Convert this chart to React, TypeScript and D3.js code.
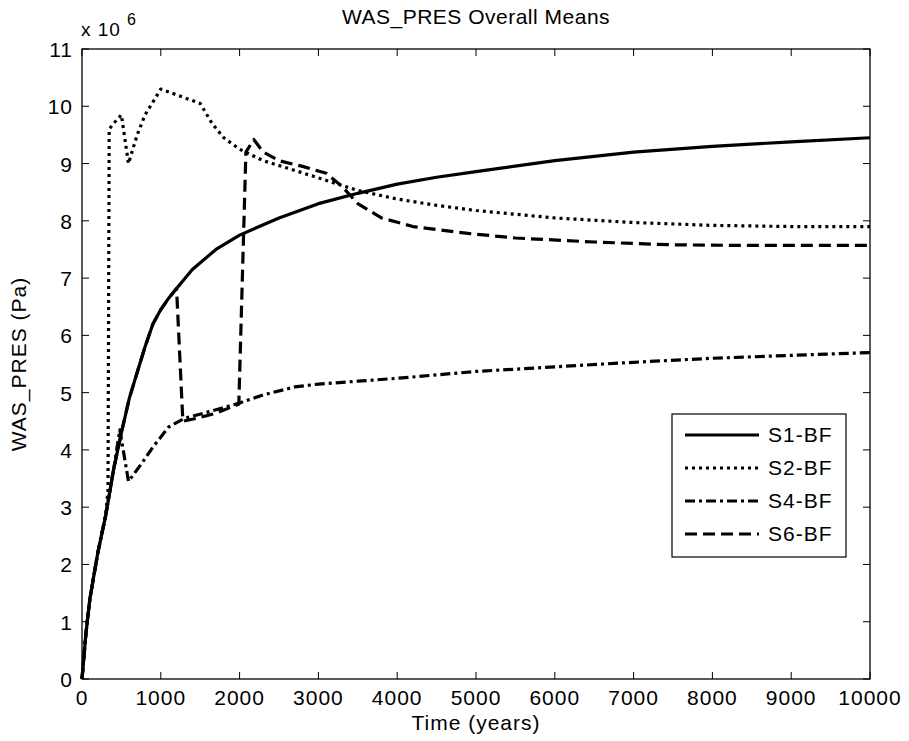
import React from 'react';
import * as d3 from 'd3';

// values in units of 1e6 Pa
const s1Time = [0, 50, 100, 200, 300, 400, 500, 600, 700, 800, 900, 1000, 1100, 1200, 1400, 1700, 2000, 2500, 3000, 3500, 4000, 4500, 5000, 6000, 7000, 8000, 9000, 10000];
const s1Vals = [0, 0.8, 1.4, 2.2, 2.85, 3.65, 4.3, 4.9, 5.35, 5.8, 6.2, 6.45, 6.65, 6.82, 7.15, 7.5, 7.75, 8.05, 8.3, 8.48, 8.64, 8.76, 8.86, 9.05, 9.2, 9.3, 9.38, 9.45];

const s2Time = [0, 50, 100, 200, 300, 330, 345, 400, 500, 590, 700, 800, 1000, 1200, 1500, 1650, 1800, 2000, 2300, 2700, 3000, 3500, 4000, 4500, 5000, 6000, 7000, 8000, 9000, 10000];
const s2Vals = [0, 0.8, 1.4, 2.2, 2.85, 3.3, 9.6, 9.7, 9.85, 9.0, 9.5, 9.85, 10.3, 10.2, 10.05, 9.7, 9.45, 9.25, 9.05, 8.88, 8.75, 8.53, 8.38, 8.27, 8.18, 8.05, 7.97, 7.92, 7.9, 7.9];

const s4Time = [0, 50, 100, 200, 300, 400, 480, 590, 750, 900, 1100, 1300, 1700, 2000, 2300, 2700, 3000, 3500, 4000, 5000, 6000, 7000, 8000, 9000, 10000];
const s4Vals = [0, 0.8, 1.4, 2.2, 2.85, 3.65, 4.35, 3.45, 3.75, 4.05, 4.4, 4.55, 4.7, 4.82, 4.96, 5.1, 5.15, 5.2, 5.25, 5.37, 5.45, 5.53, 5.6, 5.65, 5.7];

const s6Time = [0, 50, 100, 200, 300, 400, 500, 600, 700, 800, 900, 1000, 1100, 1200, 1280, 1450, 1700, 1990, 2080, 2180, 2300, 2500, 2800, 3100, 3300, 3500, 3800, 4200, 4900, 5500, 6500, 7500, 8500, 10000];
const s6Vals = [0, 0.8, 1.4, 2.2, 2.85, 3.65, 4.3, 4.9, 5.35, 5.8, 6.2, 6.45, 6.65, 6.82, 4.5, 4.55, 4.64, 4.8, 9.2, 9.42, 9.2, 9.05, 8.95, 8.83, 8.6, 8.3, 8.05, 7.9, 7.78, 7.7, 7.63, 7.58, 7.57, 7.57];

const xTicks = [0, 1000, 2000, 3000, 4000, 5000, 6000, 7000, 8000, 9000, 10000];
const yTicks = [0, 1, 2, 3, 4, 5, 6, 7, 8, 9, 10, 11];

const seriesNames = ['S1-BF', 'S2-BF', 'S4-BF', 'S6-BF'];
const seriesDash = ['', '3,4', '10,4,3,4', '12,6'];

const W = 909;
const H = 741;
const margin = { top: 49, right: 39, bottom: 62, left: 82 };
const font = "Arial, 'Liberation Sans', sans-serif";

export default function App() {
  const x = d3.scaleLinear().domain([0, 10000]).range([margin.left, W - margin.right]);
  const y = d3.scaleLinear().domain([0, 11]).range([H - margin.bottom, margin.top]);

  const line = d3.line<[number, number]>()
    .x(d => x(d[0]))
    .y(d => y(d[1]));

  const series = [
    s1Time.map((t, i) => [t, s1Vals[i]] as [number, number]),
    s2Time.map((t, i) => [t, s2Vals[i]] as [number, number]),
    s4Time.map((t, i) => [t, s4Vals[i]] as [number, number]),
    s6Time.map((t, i) => [t, s6Vals[i]] as [number, number]),
  ];

  const x0 = x(0), x1 = x(10000), y0 = y(0), y1 = y(11);
  const tick = 7;

  // legend box
  const lg = { x: 672, y: 414, w: 174, h: 143 };

  return (
    <svg width={W} height={H} style={{ position: 'absolute', left: 0, top: 0, background: '#fff' }}>
      <rect x={0} y={0} width={W} height={H} fill="#fff" />
      <text x={(x0 + x1) / 2} y={24} textAnchor="middle" fontFamily={font} fontSize={21} letterSpacing={0.5}>WAS_PRES Overall Means</text>

      {/* frame */}
      <rect x={x0} y={y1} width={x1 - x0} height={y0 - y1} fill="none" stroke="#000" strokeWidth={1.3} />

      {xTicks.map(t => (
        <g key={'x' + t}>
          <line x1={x(t)} x2={x(t)} y1={y0} y2={y0 - tick} stroke="#000" />
          <line x1={x(t)} x2={x(t)} y1={y1} y2={y1 + tick} stroke="#000" />
          <text x={x(t)} y={y0 + 26} textAnchor="middle" fontFamily={font} fontSize={21} letterSpacing={1}>{t}</text>
        </g>
      ))}
      {yTicks.map(v => (
        <g key={'y' + v}>
          <line x1={x0} x2={x0 + tick} y1={y(v)} y2={y(v)} stroke="#000" />
          <line x1={x1} x2={x1 - tick} y1={y(v)} y2={y(v)} stroke="#000" />
          <text x={x0 - 9} y={y(v) + 8} textAnchor="end" fontFamily={font} fontSize={21} letterSpacing={1}>{v}</text>
        </g>
      ))}

      <text x={81} y={36} fontFamily={font} fontSize={19} letterSpacing={1}>x 10</text>
      <text x={127} y={25} fontFamily={font} fontSize={16}>6</text>

      <text x={(x0 + x1) / 2} y={730} textAnchor="middle" fontFamily={font} fontSize={21} letterSpacing={1}>Time (years)</text>
      <text transform={`translate(26,${(y0 + y1) / 2}) rotate(-90)`} textAnchor="middle" fontFamily={font} fontSize={21} letterSpacing={1}>WAS_PRES (Pa)</text>

      {series.map((d, i) => (
        <path key={i} d={line(d) || ''} fill="none" stroke="#000" strokeWidth={i === 0 ? 3.2 : 3.2}
          strokeDasharray={seriesDash[i]} strokeLinejoin="round" />
      ))}

      <rect x={lg.x} y={lg.y} width={lg.w} height={lg.h} fill="#fff" stroke="#000" strokeWidth={1.2} />
      {seriesNames.map((n, i) => (
        <g key={n}>
          <line x1={lg.x + 13} x2={lg.x + 87} y1={lg.y + 21 + i * 33} y2={lg.y + 21 + i * 33}
            stroke="#000" strokeWidth={3.2} strokeDasharray={seriesDash[i]} />
          <text x={lg.x + 96} y={lg.y + 28 + i * 33} fontFamily={font} fontSize={21} letterSpacing={1}>{n}</text>
        </g>
      ))}
    </svg>
  );
}
